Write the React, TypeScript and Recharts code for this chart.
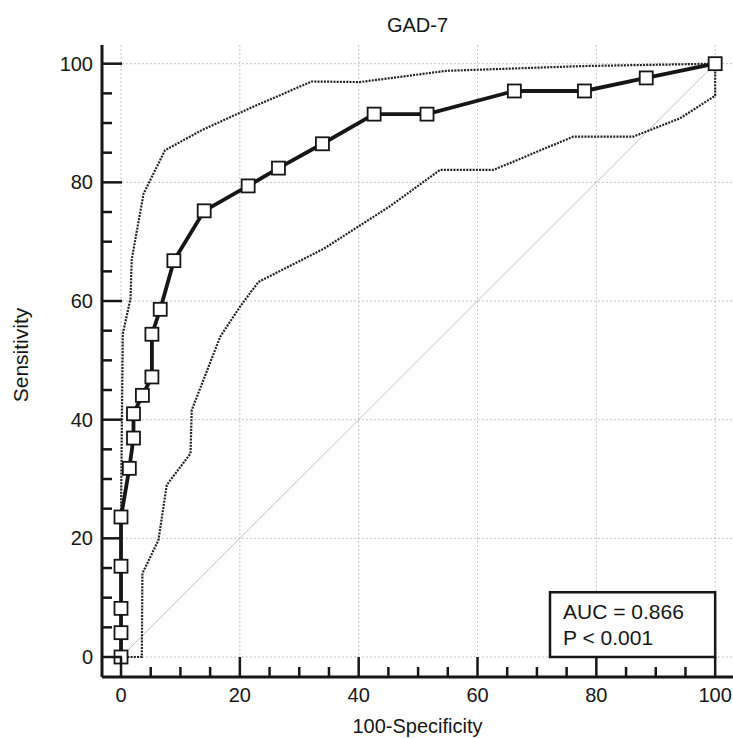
import { CartesianGrid, Line, LineChart, ReferenceArea, XAxis, YAxis } from "recharts";

// ROC curve points (100-Specificity, Sensitivity)
const rocX = [0, 0, 0, 0, 0, 1.4, 2.1, 2.1, 3.6, 5.2, 5.2, 6.6, 8.9, 14.0, 21.4, 26.5, 33.9, 42.6, 51.5, 66.2, 78.0, 88.4, 100];
const rocY = [0, 4.1, 8.2, 15.3, 23.6, 31.8, 36.9, 41.0, 44.1, 47.2, 54.4, 58.6, 66.8, 75.2, 79.4, 82.4, 86.5, 91.5, 91.5, 95.4, 95.4, 97.6, 100];

// 95% confidence bounds
const upperX = [0, 0, 0.3, 1.6, 1.8, 3.8, 7.4, 13.6, 21.7, 32.1, 40.2, 54.8, 77.8, 100];
const upperY = [0, 24, 54.5, 60.4, 67, 78.1, 85.4, 88.8, 92.5, 97.0, 96.9, 98.8, 99.6, 100];
const lowerX = [0, 3.5, 3.6, 6.3, 7.7, 11.7, 11.9, 16.7, 20.0, 23.1, 34.1, 45.3, 53.7, 62.7, 76.1, 86.2, 94.1, 100, 100];
const lowerY = [0, 0, 14.1, 19.7, 29.0, 34.3, 41.6, 54.0, 59.0, 63.2, 68.8, 76.0, 82.1, 82.1, 87.7, 87.7, 90.8, 94.6, 100];

const diagX = [0, 100];
const diagY = [0, 100];

const ticks = [0, 5, 10, 15, 20, 25, 30, 35, 40, 45, 50, 55, 60, 65, 70, 75, 80, 85, 90, 95, 100];
const majorTicks = [0, 20, 40, 60, 80, 100];
const aucText = ["AUC = 0.866", "P < 0.001"];

const zip = (xs: number[], ys: number[]) => xs.map((x, i) => ({ x, y: ys[i] }));
const roc = zip(rocX, rocY);
const upper = zip(upperX, upperY);
const lower = zip(lowerX, lowerY);
const diag = zip(diagX, diagY);

const font = "'Liberation Sans', Arial, sans-serif";
const ink = "#161616";

function XTick({ x, y, payload }: any) {
  const major = payload.value % 20 === 0;
  return (
    <g>
      <path d={`M${x},${y}V${y - (major ? 20 : 10)}`} stroke={ink} strokeWidth={2.5} fill="none" />
      {major && (
        <text x={x} y={y + 25} textAnchor="middle" fontSize={20} fontFamily={font} fill={ink}>
          {payload.value}
        </text>
      )}
    </g>
  );
}

function YTick({ x, y, payload }: any) {
  const major = payload.value % 20 === 0;
  return (
    <g>
      <path d={`M${x},${y}H${x + (major ? 20 : 10)}`} stroke={ink} strokeWidth={2.5} fill="none" />
      {major && (
        <text x={x - 9} y={y + 7} textAnchor="end" fontSize={20} fontFamily={font} fill={ink}>
          {payload.value}
        </text>
      )}
    </g>
  );
}

function SquareDot(props: any) {
  const { cx, cy, index } = props;
  return <rect key={index} x={cx - 6.5} y={cy - 6.5} width={13} height={13} fill="#fff" stroke={ink} strokeWidth={1.8} />;
}

export default function App() {
  return (
    <div style={{ position: "absolute", left: 0, top: 0, width: 733, height: 738, background: "#fff" }}>
      <div
        style={{
          position: "absolute",
          top: 15,
          left: 102,
          width: 631,
          textAlign: "center",
          fontFamily: font,
          fontSize: 20,
          lineHeight: "20px",
          color: ink,
        }}
      >
        GAD-7
      </div>
      <LineChart width={733} height={738} margin={{ top: 45, right: 0, bottom: 0, left: 0 }}>
        <CartesianGrid stroke="#c4c4c4" strokeDasharray="2 2" horizontalValues={majorTicks} verticalValues={majorTicks} />
        <XAxis
          type="number"
          dataKey="x"
          domain={[-3.2, 103]}
          allowDataOverflow
          ticks={ticks}
          interval={0}
          height={61}
          tickSize={0}
          tickMargin={0}
          tickLine={false}
          tick={<XTick />}
          axisLine={{ stroke: ink, strokeWidth: 3 }}
          label={{
            content: ({ viewBox }: any) => (
              <text x={viewBox.x + viewBox.width / 2} y={viewBox.y + viewBox.height - 5} textAnchor="middle" fontSize={20} fontFamily={font} fill={ink}>
                100-Specificity
              </text>
            ),
          }}
        />
        <YAxis
          type="number"
          dataKey="y"
          domain={[-3.37, 103.15]}
          allowDataOverflow
          ticks={ticks}
          interval={0}
          width={102}
          tickSize={0}
          tickMargin={0}
          tickLine={false}
          tick={<YTick />}
          axisLine={{ stroke: ink, strokeWidth: 3 }}
          label={{
            content: ({ viewBox }: any) => (
              <text
                x={0}
                y={0}
                transform={`translate(${viewBox.x + 28}, ${viewBox.y + viewBox.height / 2 - 6}) rotate(-90)`}
                textAnchor="middle"
                fontSize={21}
                fontFamily={font}
                fill={ink}
              >
                Sensitivity
              </text>
            ),
          }}
        />
        <Line data={diag} dataKey="y" stroke="#c2c2c2" strokeWidth={1} dot={false} isAnimationActive={false} />
        <Line data={lower} dataKey="y" type="linear" stroke="#222" strokeWidth={2.2} strokeDasharray="2 1.2" dot={false} isAnimationActive={false} />
        <Line data={upper} dataKey="y" type="linear" stroke="#222" strokeWidth={2.2} strokeDasharray="2 1.2" dot={false} isAnimationActive={false} />
        <Line data={roc} dataKey="y" type="linear" stroke={ink} strokeWidth={3.8} dot={<SquareDot />} isAnimationActive={false} />
        <ReferenceArea
          x1={72.2}
          x2={100}
          y1={0}
          y2={10.9}
          fill="#fff"
          fillOpacity={1}
          stroke={ink}
          strokeWidth={2.5}
          ifOverflow="visible"
          label={{
            content: ({ viewBox }: any) => (
              <g fontSize={21} fontFamily={font} fill={ink}>
                <text x={viewBox.x + 13} y={viewBox.y + 27}>{aucText[0]}</text>
                <text x={viewBox.x + 13} y={viewBox.y + 53}>{aucText[1]}</text>
              </g>
            ),
          }}
        />
      </LineChart>
    </div>
  );
}
